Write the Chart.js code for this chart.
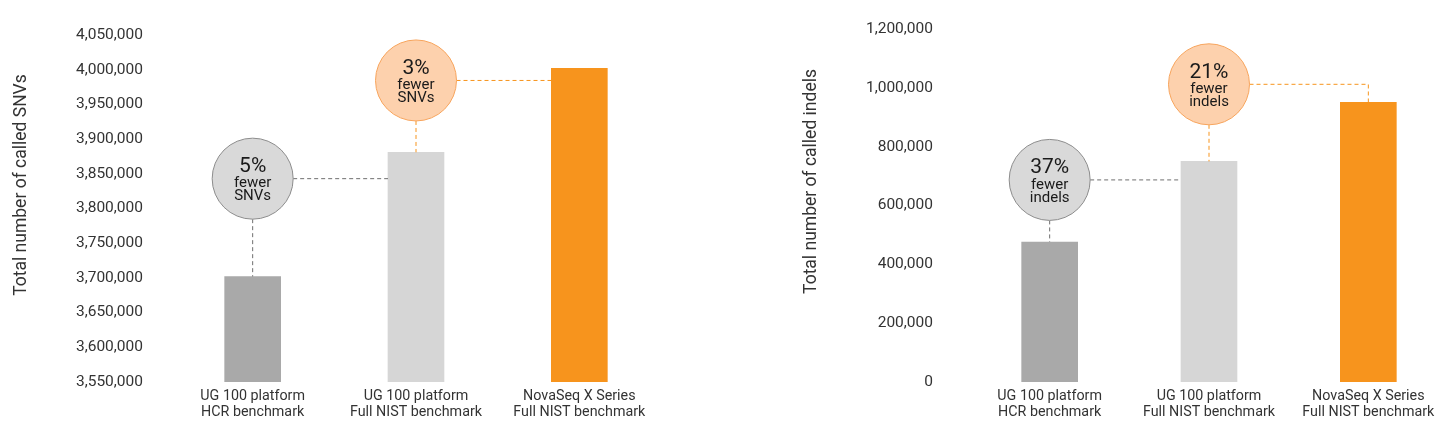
<!DOCTYPE html>
<html>
<head>
<meta charset="utf-8">
<script src="https://cdn.jsdelivr.net/npm/chart.js@4/dist/chart.umd.min.js"></script>
<style>
  html, body { margin: 0; padding: 0; background: #fff; }
  .panel { position: absolute; top: 0; width: 727px; height: 432px; }
  #panelSnv { left: 0; }
  #panelIndel { left: 727px; }
</style>
</head>
<body>
<div class="panel" id="panelSnv"><canvas id="snvChart"></canvas></div>
<div class="panel" id="panelIndel"><canvas id="indelChart"></canvas></div>
<script>
// Platforms / benchmarks compared (two-line axis labels)
const categories = [
  ['UG 100 platform', 'HCR benchmark'],
  ['UG 100 platform', 'Full NIST benchmark'],
  ['NovaSeq X Series', 'Full NIST benchmark']
];

// Total called variants per platform
const snvCounts = [3702000, 3881000, 4002000];
const indelCounts = [476000, 750000, 951000];

// Axis ranges and tick steps
const snvTickMin = 3550000, snvTickMax = 4050000, snvTickStep = 50000;
const indelTickMin = 0, indelTickMax = 1200000, indelTickStep = 200000;

// Axis titles
const snvAxisTitle = 'Total number of called SNVs';
const indelAxisTitle = 'Total number of called indels';

// Comparison callouts: bar "from" vs bar "to", bubble centred at value "at"
const snvCallouts = [
  { from: 0, to: 1, at: 3843000, tone: 'grey' },
  { from: 1, to: 2, at: 3984500, tone: 'orange' }
];
const indelCallouts = [
  { from: 0, to: 1, at: 687000, tone: 'grey' },
  { from: 1, to: 2, at: 1012000, tone: 'orange' }
];

const barColors = ['#a9a9a9', '#d6d6d6', '#f7941d'];
const calloutTones = {
  grey:   { fill: '#d9d9d9', border: '#8c8c8c', line: '#6f6f6f' },
  orange: { fill: '#fdd1ad', border: '#f7a45c', line: '#f7941d' }
};

Chart.defaults.font.family = 'Roboto, "Noto Sans", sans-serif';
Chart.defaults.color = '#333';

// Rotated y-axis title drawn at a fixed spot beside the ticks
const axisTitlePlugin = {
  id: 'axisTitle',
  afterDraw(chart, args, opts) {
    const ctx = chart.ctx;
    ctx.save();
    ctx.translate(opts.x, opts.y);
    ctx.rotate(-Math.PI / 2);
    ctx.font = '400 17.5px Roboto';
    ctx.fillStyle = '#333';
    ctx.textAlign = 'center';
    ctx.textBaseline = 'middle';
    ctx.fillText(opts.text, 0, 0);
    ctx.restore();
  }
};

// Percentage bubbles with dashed connectors between bars
const calloutPlugin = {
  id: 'callouts',
  afterDatasetsDraw(chart, args, opts) {
    const ctx = chart.ctx;
    const meta = chart.getDatasetMeta(0);
    const values = chart.data.datasets[0].data;
    const yScale = chart.scales.y;
    const r = opts.radius;
    opts.items.forEach(item => {
      const a = meta.data[item.from];
      const b = meta.data[item.to];
      const tone = calloutTones[item.tone];
      const pct = Math.round((1 - values[item.from] / values[item.to]) * 100);
      const cx = a.x;
      const cy = yScale.getPixelForValue(item.at);

      ctx.save();
      ctx.lineWidth = 1;
      ctx.strokeStyle = tone.line;
      ctx.setLineDash([4, 3]);
      ctx.beginPath();
      ctx.moveTo(cx, cy + r);
      ctx.lineTo(cx, a.y);
      ctx.moveTo(cx + r, cy);
      if (cy < b.y) {
        ctx.lineTo(b.x, cy);
        ctx.lineTo(b.x, b.y);
      } else {
        ctx.lineTo(b.x - b.width / 2, cy);
      }
      ctx.stroke();

      ctx.setLineDash([]);
      ctx.beginPath();
      ctx.arc(cx, cy, r, 0, Math.PI * 2);
      ctx.fillStyle = tone.fill;
      ctx.fill();
      ctx.strokeStyle = tone.border;
      ctx.stroke();

      ctx.fillStyle = '#1a1a1a';
      ctx.textAlign = 'center';
      ctx.textBaseline = 'middle';
      ctx.font = '400 21px Roboto';
      ctx.fillText(pct + '%', cx, cy - 12);
      ctx.font = '400 15px Roboto';
      ctx.fillText('fewer', cx, cy + 5);
      ctx.fillText(opts.noun, cx, cy + 18);
      ctx.restore();
    });
  }
};

function buildChart(canvasId, values, yMin, yMax, yStep, axisWidth, labelGap, padRight, padTop, title, callouts, noun) {
  return new Chart(document.getElementById(canvasId), {
    type: 'bar',
    data: {
      labels: categories,
      datasets: [{
        data: values,
        backgroundColor: barColors,
        borderWidth: 0,
        barThickness: 56
      }]
    },
    options: {
      responsive: true,
      maintainAspectRatio: false,
      animation: false,
      layout: { padding: { top: padTop, right: padRight, bottom: 0, left: 0 } },
      plugins: {
        legend: { display: false },
        tooltip: { enabled: false },
        axisTitle: title,
        callouts: { items: callouts, noun: noun, radius: 40.5 }
      },
      scales: {
        x: {
          grid: { display: false, drawTicks: false },
          border: { display: false },
          ticks: {
            color: '#333',
            padding: 6,
            font: { size: 14.3, lineHeight: 16 / 14.3 },
            maxRotation: 0,
            autoSkip: false
          },
          afterFit(scale) { scale.height = 50; }
        },
        y: {
          min: yMin,
          max: yMax,
          grid: { display: false, drawTicks: true, tickLength: labelGap - 3 },
          border: { display: false },
          ticks: {
            stepSize: yStep,
            color: '#333',
            padding: 3,
            font: { size: 15.5 }
          },
          afterFit(scale) { scale.width = axisWidth; }
        }
      }
    },
    plugins: [axisTitlePlugin, calloutPlugin]
  });
}

buildChart('snvChart', snvCounts, snvTickMin, snvTickMax, snvTickStep,
  171, 28, 66, 35, { text: snvAxisTitle, x: 22, y: 185 }, snvCallouts, 'SNVs');
buildChart('indelChart', indelCounts, indelTickMin, indelTickMax, indelTickStep,
  243, 37, 6, 29, { text: indelAxisTitle, x: 84.5, y: 181.5 }, indelCallouts, 'indels');
</script>
</body>
</html>
